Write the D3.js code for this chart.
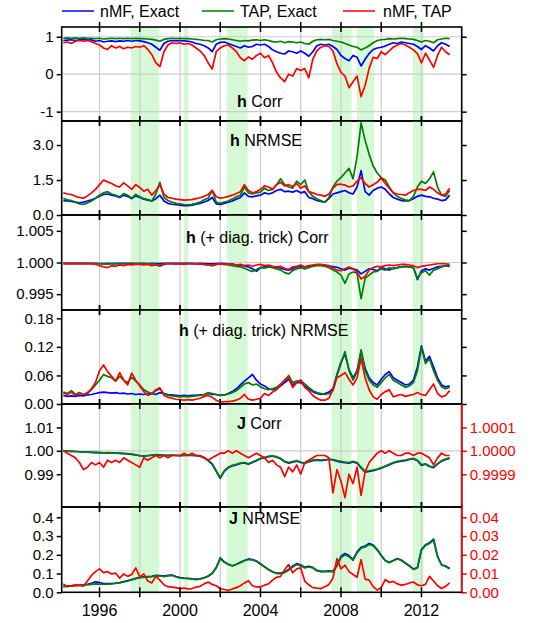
<!DOCTYPE html>
<html><head><meta charset="utf-8">
<script src="https://cdn.jsdelivr.net/npm/d3@7"></script>
<style>body{margin:0;background:#fff}svg{display:block;font-family:"Liberation Sans",Arial,sans-serif}</style>
</head><body><svg id="c" width="540" height="623"></svg>
<script>
// sampling: every 0.2 year starting 1994.2
const startYear = 1994.2, stepYear = 0.2;

const hCorrBlue = [0.90,0.91,0.92,0.90,0.92,0.93,0.91,0.92,0.88,0.90,
0.86,0.88,0.89,0.87,0.89,0.88,0.90,0.88,0.90,0.89,
0.87,0.84,0.80,0.72,0.64,0.82,0.88,0.90,0.89,0.90,
0.89,0.88,0.86,0.82,0.80,0.76,0.70,0.60,0.80,0.85,
0.86,0.82,0.78,0.74,0.70,0.76,0.72,0.74,0.80,0.78,
0.80,0.74,0.65,0.60,0.56,0.54,0.62,0.60,0.56,0.62,
0.56,0.48,0.60,0.76,0.80,0.78,0.80,0.74,0.66,0.50,
0.42,0.36,0.50,0.45,0.22,0.40,0.55,0.66,0.70,0.72,
0.75,0.80,0.84,0.82,0.86,0.84,0.82,0.80,0.74,0.66,
0.76,0.70,0.62,0.76,0.84,0.80,0.74];
const hCorrGreen = [0.96,0.97,0.96,0.97,0.96,0.97,0.96,0.96,0.95,0.96,
0.94,0.95,0.96,0.95,0.96,0.95,0.96,0.95,0.96,0.95,
0.95,0.94,0.93,0.91,0.88,0.93,0.95,0.96,0.95,0.96,
0.95,0.95,0.94,0.93,0.92,0.90,0.90,0.86,0.92,0.94,
0.95,0.94,0.92,0.90,0.88,0.90,0.89,0.91,0.92,0.90,
0.92,0.90,0.87,0.86,0.88,0.84,0.87,0.86,0.84,0.86,
0.82,0.80,0.88,0.92,0.93,0.92,0.93,0.90,0.88,0.86,
0.82,0.78,0.74,0.72,0.65,0.70,0.76,0.84,0.90,0.92,
0.93,0.95,0.94,0.95,0.96,0.95,0.94,0.93,0.90,0.86,
0.90,0.88,0.84,0.92,0.94,0.96,0.95];
const hCorrRed = [0.84,0.86,0.82,0.88,0.90,0.88,0.90,0.87,0.82,0.78,
0.70,0.66,0.76,0.70,0.74,0.68,0.72,0.70,0.74,0.72,
0.76,0.66,0.52,0.30,0.20,0.60,0.78,0.84,0.82,0.84,
0.80,0.82,0.78,0.70,0.62,0.50,0.30,0.14,0.60,0.70,
0.76,0.78,0.70,0.60,0.44,0.36,0.46,0.40,0.50,0.56,
0.44,0.50,0.30,0.05,-0.10,-0.20,0.00,-0.05,0.15,0.10,
0.15,-0.10,0.40,0.62,0.72,0.76,0.74,0.62,0.28,0.05,
-0.05,-0.36,-0.20,-0.05,-0.60,-0.30,0.15,0.45,0.42,0.60,
0.52,0.62,0.72,0.78,0.82,0.78,0.72,0.65,0.55,0.30,
0.56,0.38,0.18,0.50,0.72,0.60,0.52];

const hNrmseBlue = [0.62,0.60,0.58,0.55,0.52,0.55,0.60,0.65,0.72,0.80,
0.88,0.90,0.85,0.82,0.75,0.85,0.80,0.70,0.82,0.75,
0.68,0.64,0.60,0.70,0.85,0.60,0.50,0.46,0.44,0.42,
0.40,0.40,0.42,0.46,0.50,0.56,0.62,0.75,0.48,0.45,
0.50,0.55,0.60,0.68,0.75,0.95,0.80,0.78,0.82,0.85,
0.95,0.90,0.95,1.05,1.10,1.00,1.02,0.98,1.05,0.95,
1.00,0.75,0.70,0.62,0.58,0.55,0.70,0.90,0.95,1.00,
1.05,0.95,0.90,1.20,1.90,1.00,0.85,1.05,1.15,1.20,
1.10,0.90,0.75,0.68,0.62,0.60,0.62,0.70,0.80,0.85,
0.80,0.78,0.72,0.68,0.62,0.65,0.85];
const hNrmseGreen = [0.72,0.65,0.62,0.55,0.48,0.45,0.52,0.60,0.72,0.85,
0.95,1.00,0.90,0.85,0.78,0.92,0.85,0.72,0.88,0.78,
0.70,0.66,0.60,0.90,1.40,0.75,0.62,0.55,0.50,0.48,
0.45,0.44,0.46,0.50,0.55,0.65,0.72,1.05,0.55,0.50,
0.55,0.60,0.68,0.78,0.85,1.20,0.95,0.90,0.95,0.98,
1.15,1.05,1.10,1.30,1.55,1.30,1.20,1.15,1.45,1.30,
1.50,1.00,0.80,0.70,0.62,0.55,0.75,1.20,1.45,1.60,
1.80,2.00,1.55,2.50,3.95,3.20,2.60,2.10,1.80,1.60,
1.50,1.20,0.95,0.80,0.70,0.65,0.62,0.80,1.20,1.45,
1.35,1.55,1.85,1.20,0.85,0.80,1.05];
const hNrmseRed = [0.95,0.90,0.88,0.80,0.75,0.72,0.82,0.95,1.10,1.30,
1.50,1.42,1.35,1.25,1.20,1.38,1.25,1.10,1.30,1.18,
1.02,1.10,0.85,1.05,1.30,0.90,0.75,0.72,0.68,0.66,
0.64,0.65,0.66,0.70,0.74,0.80,0.88,1.05,0.78,0.72,
0.75,0.80,0.85,0.92,1.00,1.30,1.05,0.95,1.00,1.10,
1.25,1.20,1.10,1.30,1.40,1.25,1.30,1.22,1.35,1.15,
1.25,1.00,0.95,0.88,0.85,0.80,0.90,1.15,1.30,1.32,
1.28,1.20,1.25,1.45,1.60,1.35,1.20,1.30,1.40,1.60,
1.35,1.15,0.95,0.90,0.88,0.85,0.95,1.05,1.10,1.10,
1.05,1.20,1.10,0.95,0.85,0.90,1.15];

const hDiagCorrBlue = [0.99985,0.99988,0.99985,0.99987,0.99985,0.99988,0.99986,0.99985,0.99987,0.99984,
0.99982,0.99985,0.99984,0.99986,0.99985,0.99987,0.99985,0.99986,0.99984,0.99986,
0.99985,0.99983,0.99986,0.99984,0.99982,0.99986,0.99987,0.99985,0.99987,0.99986,
0.99985,0.99987,0.99986,0.99984,0.99985,0.99983,0.99980,0.99978,0.99982,0.99985,
0.99984,0.99980,0.99975,0.99965,0.99955,0.99945,0.99930,0.99900,0.99860,0.99920,
0.99930,0.99940,0.99930,0.99925,0.99910,0.99890,0.99880,0.99900,0.99930,0.99940,
0.99930,0.99940,0.99950,0.99960,0.99962,0.99955,0.99945,0.99935,0.99925,0.99900,
0.99880,0.99910,0.99900,0.99880,0.99820,0.99860,0.99900,0.99890,0.99870,0.99920,
0.99900,0.99880,0.99910,0.99920,0.99930,0.99940,0.99930,0.99920,0.99730,0.99870,
0.99900,0.99880,0.99910,0.99930,0.99940,0.99950,0.99940];
const hDiagCorrGreen = [0.99980,0.99985,0.99980,0.99982,0.99985,0.99980,0.99984,0.99980,0.99982,0.99980,
0.99978,0.99975,0.99980,0.99978,0.99978,0.99980,0.99984,0.99980,0.99982,0.99980,
0.99980,0.99978,0.99980,0.99970,0.99960,0.99980,0.99984,0.99980,0.99984,0.99980,
0.99980,0.99984,0.99980,0.99978,0.99975,0.99970,0.99960,0.99950,0.99970,0.99978,
0.99970,0.99960,0.99950,0.99940,0.99930,0.99910,0.99880,0.99860,0.99890,0.99920,
0.99910,0.99930,0.99920,0.99900,0.99880,0.99840,0.99820,0.99870,0.99900,0.99920,
0.99900,0.99920,0.99940,0.99950,0.99950,0.99940,0.99920,0.99880,0.99850,0.99800,
0.99670,0.99820,0.99850,0.99830,0.99430,0.99750,0.99800,0.99850,0.99860,0.99900,
0.99880,0.99920,0.99900,0.99920,0.99930,0.99940,0.99930,0.99920,0.99750,0.99840,
0.99870,0.99800,0.99880,0.99900,0.99930,0.99950,0.99960];
const hDiagCorrRed = [0.99985,0.99983,0.99985,0.99982,0.99984,0.99983,0.99985,0.99980,0.99975,0.99950,
0.99930,0.99920,0.99950,0.99940,0.99960,0.99950,0.99970,0.99960,0.99970,0.99970,
0.99960,0.99970,0.99950,0.99960,0.99940,0.99970,0.99980,0.99980,0.99975,0.99980,
0.99970,0.99980,0.99980,0.99975,0.99980,0.99970,0.99960,0.99950,0.99970,0.99980,
0.99970,0.99980,0.99970,0.99960,0.99970,0.99950,0.99960,0.99940,0.99960,0.99970,
0.99950,0.99960,0.99940,0.99930,0.99940,0.99910,0.99890,0.99930,0.99940,0.99960,
0.99930,0.99950,0.99960,0.99970,0.99970,0.99960,0.99950,0.99910,0.99880,0.99870,
0.99900,0.99930,0.99900,0.99850,0.99740,0.99780,0.99880,0.99920,0.99940,0.99930,
0.99950,0.99960,0.99950,0.99960,0.99970,0.99970,0.99960,0.99950,0.99920,0.99940,
0.99950,0.99960,0.99970,0.99980,0.99980,0.99980,0.99970];

const hDiagNrmseBlue = [0.018,0.016,0.017,0.016,0.018,0.017,0.019,0.020,0.022,0.024,
0.025,0.024,0.023,0.024,0.022,0.023,0.021,0.022,0.020,0.021,
0.020,0.021,0.022,0.020,0.024,0.022,0.020,0.019,0.018,0.017,
0.018,0.017,0.018,0.018,0.019,0.020,0.022,0.020,0.020,0.018,
0.019,0.022,0.026,0.032,0.040,0.048,0.055,0.062,0.050,0.042,
0.038,0.032,0.030,0.033,0.038,0.045,0.052,0.040,0.045,0.045,
0.038,0.032,0.026,0.022,0.020,0.022,0.025,0.032,0.062,0.088,
0.105,0.072,0.055,0.070,0.110,0.075,0.055,0.045,0.040,0.052,
0.062,0.068,0.055,0.050,0.045,0.040,0.042,0.050,0.078,0.122,
0.090,0.100,0.078,0.055,0.040,0.036,0.038];
const hDiagNrmseGreen = [0.025,0.022,0.028,0.020,0.024,0.020,0.022,0.030,0.040,0.050,
0.062,0.058,0.055,0.048,0.058,0.050,0.045,0.056,0.048,0.040,
0.030,0.025,0.022,0.028,0.032,0.022,0.018,0.017,0.016,0.015,
0.016,0.015,0.016,0.017,0.018,0.020,0.024,0.022,0.020,0.018,
0.019,0.021,0.024,0.028,0.035,0.042,0.045,0.040,0.042,0.036,
0.032,0.030,0.032,0.035,0.042,0.050,0.060,0.045,0.048,0.050,
0.042,0.035,0.028,0.024,0.022,0.020,0.022,0.028,0.060,0.085,
0.110,0.070,0.050,0.068,0.114,0.070,0.050,0.040,0.035,0.045,
0.055,0.062,0.050,0.045,0.040,0.035,0.038,0.045,0.070,0.118,
0.085,0.095,0.070,0.050,0.036,0.032,0.035];
const hDiagNrmseRed = [0.024,0.020,0.025,0.018,0.022,0.020,0.024,0.032,0.045,0.070,
0.082,0.068,0.058,0.048,0.066,0.050,0.040,0.065,0.050,0.038,
0.026,0.018,0.022,0.030,0.034,0.018,0.014,0.012,0.010,0.009,
0.008,0.009,0.008,0.010,0.012,0.016,0.018,0.014,0.008,0.004,
0.005,0.005,0.006,0.008,0.012,0.020,0.010,0.008,0.010,0.012,
0.022,0.018,0.025,0.030,0.040,0.050,0.056,0.035,0.045,0.050,
0.035,0.028,0.018,0.012,0.008,0.008,0.012,0.030,0.055,0.060,
0.066,0.052,0.040,0.055,0.096,0.055,0.030,0.015,0.010,0.020,
0.026,0.030,0.015,0.018,0.020,0.016,0.018,0.020,0.024,0.020,
0.018,0.030,0.042,0.022,0.015,0.018,0.028];

const jCorrBlue = [1.0000,0.9999,0.9998,0.9997,0.9996,0.9995,0.9994,0.9993,0.9992,0.9992,
0.9991,0.9991,0.9991,0.9990,0.9989,0.9988,0.9987,0.9985,0.9982,0.9979,
0.9977,0.9979,0.9981,0.9983,0.9982,0.9981,0.9980,0.9981,0.9980,0.9979,
0.9980,0.9981,0.9980,0.9979,0.9977,0.9970,0.9958,0.9942,0.9912,0.9882,
0.9912,0.9928,0.9936,0.9940,0.9946,0.9948,0.9943,0.9950,0.9958,0.9966,
0.9970,0.9975,0.9977,0.9973,0.9966,0.9953,0.9947,0.9951,0.9956,0.9950,
0.9946,0.9953,0.9958,0.9960,0.9958,0.9960,0.9963,0.9961,0.9956,0.9952,
0.9949,0.9947,0.9952,0.9947,0.9927,0.9909,0.9912,0.9915,0.9920,0.9926,
0.9933,0.9940,0.9948,0.9953,0.9956,0.9958,0.9963,0.9966,0.9958,0.9938,
0.9943,0.9933,0.9928,0.9943,0.9956,0.9963,0.9968];
const jCorrGreen = [1.0000,0.9999,0.9998,0.9997,0.9996,0.9995,0.9994,0.9993,0.9993,0.9992,
0.9991,0.9992,0.9991,0.9990,0.9990,0.9989,0.9988,0.9986,0.9983,0.9980,
0.9978,0.9980,0.9982,0.9984,0.9983,0.9982,0.9981,0.9982,0.9981,0.9980,
0.9981,0.9982,0.9981,0.9980,0.9978,0.9972,0.9960,0.9945,0.9915,0.9885,
0.9915,0.9930,0.9938,0.9942,0.9948,0.9950,0.9945,0.9952,0.9960,0.9968,
0.9972,0.9976,0.9978,0.9975,0.9968,0.9955,0.9950,0.9954,0.9958,0.9952,
0.9948,0.9955,0.9960,0.9962,0.9960,0.9962,0.9965,0.9963,0.9958,0.9955,
0.9952,0.9950,0.9955,0.9950,0.9930,0.9912,0.9915,0.9918,0.9922,0.9928,
0.9935,0.9942,0.9950,0.9955,0.9958,0.9960,0.9965,0.9968,0.9960,0.9940,
0.9945,0.9935,0.9930,0.9945,0.9958,0.9965,0.9970];
const jCorrRed = [1.00000,0.99999,0.99998,0.99997,0.99995,0.99992,0.99993,0.99995,0.99994,0.99995,
0.99993,0.99996,0.99995,0.99996,0.99995,0.99997,0.99996,0.99995,0.99994,0.99993,
0.99997,0.99996,0.99997,0.99998,0.99997,0.99998,0.99997,0.99998,0.99998,0.99998,
0.99999,0.99998,0.99999,0.99998,0.99998,0.99997,0.99996,0.99997,0.99998,0.99999,
0.99999,1.00000,0.99999,1.00000,0.99999,0.99998,0.99997,0.99998,0.99999,0.99998,
0.99997,0.99995,0.99996,0.99994,0.99993,0.99989,0.99993,0.99991,0.99994,0.99990,
0.99995,0.99996,0.99997,0.99998,0.99998,0.99998,0.99997,0.99982,0.99992,0.99987,
0.99980,0.99990,0.99986,0.99993,0.99981,0.99991,0.99995,0.99997,0.99999,1.00000,
0.99999,1.00000,0.99999,0.99998,0.99998,0.99999,0.99999,0.99998,0.99999,0.99999,
0.99998,0.99997,0.99994,0.99997,0.99999,0.99998,0.99998];

const jNrmseBlue = [0.032,0.034,0.035,0.037,0.038,0.040,0.043,0.048,0.056,0.052,
0.046,0.046,0.047,0.049,0.052,0.057,0.062,0.068,0.074,0.080,
0.082,0.084,0.085,0.090,0.089,0.086,0.090,0.092,0.084,0.078,
0.076,0.075,0.072,0.070,0.072,0.078,0.087,0.102,0.132,0.184,
0.163,0.150,0.142,0.150,0.160,0.170,0.178,0.175,0.167,0.152,
0.137,0.122,0.110,0.102,0.102,0.108,0.122,0.140,0.153,0.145,
0.134,0.138,0.133,0.117,0.112,0.112,0.114,0.112,0.145,0.192,
0.207,0.196,0.175,0.216,0.240,0.247,0.260,0.252,0.228,0.198,
0.170,0.160,0.170,0.180,0.172,0.157,0.142,0.124,0.132,0.228,
0.254,0.264,0.284,0.192,0.147,0.140,0.127];
const jNrmseGreen = [0.030,0.032,0.033,0.035,0.036,0.038,0.040,0.042,0.045,0.044,
0.043,0.044,0.045,0.047,0.050,0.055,0.060,0.066,0.072,0.078,
0.080,0.082,0.083,0.088,0.087,0.084,0.088,0.090,0.082,0.076,
0.074,0.073,0.070,0.068,0.070,0.076,0.085,0.100,0.130,0.180,
0.160,0.148,0.140,0.148,0.158,0.168,0.175,0.172,0.165,0.150,
0.135,0.120,0.108,0.100,0.100,0.105,0.118,0.135,0.148,0.140,
0.130,0.135,0.130,0.115,0.110,0.110,0.112,0.110,0.140,0.185,
0.200,0.190,0.170,0.210,0.235,0.242,0.255,0.248,0.225,0.195,
0.168,0.158,0.168,0.178,0.170,0.155,0.140,0.122,0.130,0.225,
0.250,0.260,0.280,0.190,0.145,0.138,0.125];
const jNrmseRed = [0.0045,0.0030,0.0035,0.0040,0.0038,0.0032,0.0060,0.0090,0.0110,0.0125,
0.0105,0.0110,0.0098,0.0102,0.0075,0.0098,0.0085,0.0095,0.0130,0.0082,
0.0098,0.0060,0.0050,0.0085,0.0065,0.0040,0.0030,0.0028,0.0025,0.0020,
0.0022,0.0018,0.0020,0.0028,0.0032,0.0045,0.0055,0.0042,0.0035,0.0020,
0.0015,0.0010,0.0018,0.0025,0.0035,0.0050,0.0062,0.0035,0.0028,0.0030,
0.0038,0.0045,0.0065,0.0080,0.0085,0.0120,0.0148,0.0105,0.0125,0.0130,
0.0060,0.0040,0.0025,0.0022,0.0020,0.0030,0.0042,0.0075,0.0180,0.0125,
0.0145,0.0110,0.0095,0.0080,0.0175,0.0070,0.0065,0.0030,0.0012,0.0025,
0.0068,0.0052,0.0058,0.0045,0.0038,0.0042,0.0050,0.0055,0.0040,0.0035,
0.0042,0.0085,0.0060,0.0035,0.0020,0.0032,0.0050];

// shaded periods (years)
const bandStart = [1997.55, 2000.18, 2002.32, 2007.54, 2008.79, 2011.57];
const bandEnd   = [1998.97, 2000.41, 2003.36, 2008.53, 2009.65, 2012.11];

const yearTicks = [1996,1998,2000,2002,2004,2006,2008,2010,2012,2014];
const yearLabels = [1996,2000,2004,2008,2012];

const hCorrTicks = [-1, 0, 1];
const hNrmseTicks = [0, 1.5, 3.0];
const hDiagCorrTicks = [0.995, 1.000, 1.005];
const hDiagNrmseTicks = [0, 0.06, 0.12, 0.18];
const jCorrTicks = [0.99, 1.00, 1.01];
const jCorrRightTicks = [0.9999, 1.0000, 1.0001];
const jNrmseTicks = [0, 0.1, 0.2, 0.3, 0.4];
const jNrmseRightTicks = [0, 0.01, 0.02, 0.03, 0.04];

const seriesNames = ["nMF, Exact", "TAP, Exact", "nMF, TAP"];
const colors = ["#0000ff", "#008000", "#ff0000"];

const dates = hCorrBlue.map((_, i) => startYear + i * stepYear);

const L = 61.7, R = 461.7;
const x = d3.scaleLinear().domain([1994.12, 2014.0]).range([L, R]);
const svg = d3.select("#c");

const fmtN = (n) => (d => d.toFixed(n));

const panels = [
  {top:27, bot:121, dom:[-1.25,1.26], major:hCorrTicks, minorStep:0.5, fmt:fmtN(0), grid:[-1,0,1],
   data:[hCorrBlue,hCorrGreen,hCorrRed], b:"h", t:" Corr", tx:237, ty:107},
  {top:121, bot:215, dom:[0,4.03], major:hNrmseTicks, minorStep:0.5, fmt:fmtN(1), grid:[],
   data:[hNrmseBlue,hNrmseGreen,hNrmseRed], b:"h", t:" NRMSE", tx:230, ty:146},
  {top:215, bot:310, dom:[0.9925,1.0075], major:hDiagCorrTicks, minorStep:0.0025, fmt:fmtN(3), grid:[1],
   data:[hDiagCorrBlue,hDiagCorrGreen,hDiagCorrRed], b:"h", t:" (+ diag. trick) Corr", tx:186, ty:243},
  {top:310, bot:404, dom:[0,0.1975], major:hDiagNrmseTicks, minorStep:0.03, fmt:fmtN(2), grid:[],
   data:[hDiagNrmseBlue,hDiagNrmseGreen,hDiagNrmseRed], b:"h", t:" (+ diag. trick) NRMSE", tx:179, ty:336},
  {top:404, bot:507, dom:[0.976,1.02], major:jCorrTicks, minorStep:0.005, fmt:fmtN(2), grid:[1],
   data:[jCorrBlue,jCorrGreen], right:{dom:[0.99976,1.0002], major:jCorrRightTicks, minorStep:0.00005, fmt:fmtN(4), data:jCorrRed},
   b:"J", t:" Corr", tx:237, ty:429},
  {top:507, bot:592.3, dom:[0,0.455], major:jNrmseTicks, minorStep:0.05, fmt:fmtN(1), grid:[],
   data:[jNrmseBlue,jNrmseGreen], right:{dom:[0,0.0455], major:jNrmseRightTicks, minorStep:0.005, fmt:fmtN(2), data:jNrmseRed},
   b:"J", t:" NRMSE", tx:229, ty:524}
];

function minorTicks(dom, step) {
  const lo = Math.ceil(dom[0]/step - 1e-9), hi = Math.floor(dom[1]/step + 1e-9);
  return d3.range(lo, hi + 1).map(k => +(k*step).toFixed(8));
}

const SW = 1.7;

panels.forEach((p, pi) => {
  const g = svg.append("g");
  const y = d3.scaleLinear().domain(p.dom).range([p.bot, p.top]);
  const clipId = "clip" + pi;
  svg.append("clipPath").attr("id", clipId).append("rect")
    .attr("x", L).attr("y", p.top).attr("width", R - L).attr("height", p.bot - p.top);

  g.selectAll("rect.band").data(bandStart).enter().append("rect")
    .attr("x", (d) => x(d)).attr("width", (d, i) => x(bandEnd[i]) - x(d))
    .attr("y", p.top).attr("height", p.bot - p.top).attr("fill", "#d5f8d5");
  g.selectAll("line.vg").data(yearTicks.filter(d => d < 2014)).enter().append("line")
    .attr("x1", d => x(d)).attr("x2", d => x(d)).attr("y1", p.top).attr("y2", p.bot)
    .attr("stroke", "#cccccc").attr("stroke-width", 1.2);
  g.selectAll("line.hg").data(p.grid).enter().append("line")
    .attr("x1", L).attr("x2", R).attr("y1", d => y(d)).attr("y2", d => y(d))
    .attr("stroke", "#cccccc").attr("stroke-width", 1.2);

  const line = (sc) => d3.line().x((d, i) => x(dates[i])).y(d => sc(d));
  const lg = g.append("g").attr("clip-path", `url(#${clipId})`);
  p.data.forEach((arr, k) => {
    lg.append("path").datum(arr).attr("d", line(y)).attr("fill", "none")
      .attr("stroke", colors[k]).attr("stroke-width", SW).attr("stroke-linejoin", "round");
  });
  let yr = null;
  if (p.right) {
    yr = d3.scaleLinear().domain(p.right.dom).range([p.bot, p.top]);
    lg.append("path").datum(p.right.data).attr("d", line(yr)).attr("fill", "none")
      .attr("stroke", colors[2]).attr("stroke-width", SW).attr("stroke-linejoin", "round");
  }

  const ax = g.append("g").attr("transform", `translate(${L},0)`);
  ax.call(d3.axisLeft(y).tickValues(minorTicks(p.dom, p.minorStep)).tickSize(3).tickFormat(""));
  ax.call(d3.axisLeft(y).tickValues(p.major).tickSize(5).tickPadding(3).tickFormat(p.fmt));
  ax.selectAll(".domain").remove();
  ax.selectAll("line").attr("stroke", "#000").attr("stroke-width", 1.5);
  ax.selectAll("text").attr("font-size", 15).attr("fill", "#000").attr("font-family", '"Liberation Sans",Arial,sans-serif');

  const ar = g.append("g").attr("transform", `translate(${R},0)`);
  if (p.right) {
    ar.call(d3.axisRight(yr).tickValues(minorTicks(p.right.dom, p.right.minorStep)).tickSize(3).tickFormat(""));
    ar.call(d3.axisRight(yr).tickValues(p.right.major).tickSize(5).tickPadding(3).tickFormat(p.right.fmt));
    ar.selectAll("line").attr("stroke", "#ff0000").attr("stroke-width", 1.5);
    ar.selectAll("text").attr("font-size", 15).attr("fill", "#ff0000").attr("font-family", '"Liberation Sans",Arial,sans-serif');
  } else {
    ar.call(d3.axisRight(y).tickValues(minorTicks(p.dom, p.minorStep)).tickSize(3).tickFormat(""));
    ar.call(d3.axisRight(y).tickValues(p.major).tickSize(5).tickFormat(""));
    ar.selectAll("line").attr("stroke", "#000").attr("stroke-width", 1.5);
  }
  ar.selectAll(".domain").remove();

  g.append("rect").attr("x", L).attr("y", p.top).attr("width", R - L).attr("height", p.bot - p.top)
    .attr("fill", "none").attr("stroke", "#000").attr("stroke-width", 1.6);
  if (p.right) {
    g.append("line").attr("x1", R).attr("x2", R).attr("y1", p.top).attr("y2", p.bot)
      .attr("stroke", "#ff0000").attr("stroke-width", 1.6);
  }
  [p.top, p.bot].forEach((yy) => {
    g.selectAll(null).data(yearTicks.filter(d => d < 2014)).enter().append("line")
      .attr("x1", d => x(d)).attr("x2", d => x(d))
      .attr("y1", yy - 5).attr("y2", yy + 5)
      .attr("stroke", "#000").attr("stroke-width", 1.5);
  });

  const tt = g.append("text").attr("x", p.tx).attr("y", p.ty).attr("font-size", 16).attr("fill", "#000");
  tt.append("tspan").attr("font-weight", "bold").text(p.b);
  tt.append("tspan").text(p.t);
});

svg.append("g").selectAll("text").data(yearLabels).enter().append("text")
  .attr("x", d => x(d)).attr("y", 616).attr("text-anchor", "middle").attr("font-size", 16).text(d => d);

const legX = [62, 202, 343], legTX = [100, 240, 383];
const leg = svg.append("g");
seriesNames.forEach((n, i) => {
  leg.append("line").attr("x1", legX[i]).attr("x2", legX[i] + 32).attr("y1", 11).attr("y2", 11)
    .attr("stroke", colors[i]).attr("stroke-width", 1.5);
  leg.append("text").attr("x", legTX[i]).attr("y", 17).attr("font-size", 16).text(n);
});
</script></body></html>
